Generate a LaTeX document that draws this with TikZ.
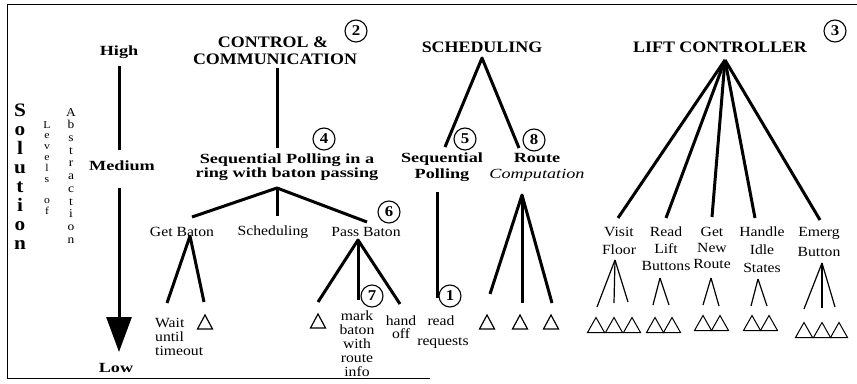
\documentclass[tikz,border=0pt]{standalone}
\usepackage{fontspec}
\usetikzlibrary{arrows.meta}
\setmainfont[FakeStretch=1.12]{Liberation Serif}
\newfontfamily\wbf[FakeStretch=1.3]{Liberation Serif}
\begin{document}
\begin{tikzpicture}[x=1pt,y=-1pt,
  tx/.style={inner sep=0pt,align=center,font=\fontsize{14}{17}\selectfont},
  hd/.style={inner sep=0pt,align=center,font=\bfseries\fontsize{16}{17}\selectfont},
  mb/.style={inner sep=0pt,align=center,font=\wbf\bfseries\fontsize{14}{13.5}\selectfont},
  num/.style={circle,draw,line width=1.1pt,minimum size=22pt,inner sep=0pt,font=\bfseries\fontsize{15}{15}\selectfont},
  thk/.style={line width=3pt},
  thn/.style={line width=1.2pt},
  frm/.style={line width=0.8pt},
  ltri/.pic={\draw[line width=1.2pt,line join=miter] (-7.5,7)--(0,-7)--(7.5,7)--cycle;},
  stri/.pic={\draw[line width=1pt,line join=miter] (-8.5,7.5)--(0,-7.5)--(8.5,7.5)--cycle;}
]
\useasboundingbox (0,0) rectangle (857,383);
% frame
\draw[frm] (857,4) -- (7,4) -- (7,378) -- (430,378);

% left axis labels
\node[inner sep=0pt,align=center,anchor=north,font=\bfseries\fontsize{19}{19}\selectfont] (sol) at (20,104) {S\\o\\l\\u\\t\\i\\o\\n};
\node[inner sep=0pt,align=center,anchor=north,font=\fontsize{10.5}{10.8}\selectfont] (lev) at (47,121) {L\\e\\v\\e\\l\\s\\[10.8pt]o\\f};
\node[inner sep=0pt,align=center,anchor=north,font=\fontsize{12}{12.7}\selectfont] (abs) at (71,108) {A\\b\\s\\t\\r\\a\\c\\t\\i\\o\\n};

\node[mb,font=\wbf\bfseries\fontsize{14}{14}\selectfont] (high) at (119,52) {High};
\node[mb,font=\wbf\bfseries\fontsize{14}{14}\selectfont] (med) at (122,166) {Medium};
\node[mb,font=\wbf\bfseries\fontsize{14}{14}\selectfont] (low) at (116,368) {Low};
\coordinate (ax1) at (119,66);
\coordinate (ax2) at (119,150);
\coordinate (ax3) at (119,188);
\coordinate (ax4) at (119,352);
\draw[thk] (ax1) -- (ax2);
\draw[thk,-{Triangle[length=35pt,width=25pt]}] (ax3) -- (ax4);

% CONTROL & COMMUNICATION
\node[hd] (ctl) at (273,42) {CONTROL \&};
\node[hd] (com) at (275,59) {COMMUNICATION};
\node[num] (n2) at (356,31) {2};
\coordinate (c1) at (277,68);
\coordinate (c2) at (277,148);
\draw[thk] (c1) -- (c2);
\node[num] (n4) at (324,139) {4};
\node[mb] (seqr) at (287,167) {Sequential Polling in a\\ring with baton passing};
\coordinate (cA) at (277,188);
\coordinate (cL) at (192,217);
\coordinate (cM) at (277,216);
\coordinate (cR) at (367,222);
\draw[thk,line join=round] (cL) -- (cA) -- (cR);
\draw[thk] (cA) -- (cM);
\node[tx] (gb) at (182,232) {Get Baton};
\node[tx] (sch) at (273,232) {Scheduling};
\node[tx] (pb) at (366,232) {Pass Baton};
\node[num] (n6) at (389,212) {6};

% Get Baton subtree
\coordinate (gA) at (190,236);
\coordinate (gL) at (167,303);
\coordinate (gR) at (204,302);
\draw[thk,line join=round] (gL) -- (gA) -- (gR);
\node[tx,align=left,anchor=west,font=\fontsize{14}{14}\selectfont] (wait) at (155,337) {Wait\\until\\timeout};
\pic (t1) at (205,322) {ltri};

% Pass Baton subtree
\coordinate (pA) at (358,240);
\coordinate (pL) at (318,302);
\coordinate (pM) at (358,300);
\coordinate (pR) at (400,304);
\draw[thk,line join=round] (pL) -- (pA) -- (pR);
\draw[thk] (pA) -- (pM);
\node[num,fill=white] (n7) at (372,296) {7};
\pic (t2) at (318,321) {ltri};
\node[tx,font=\fontsize{14}{14}\selectfont] (mark) at (357,344) {mark\\baton\\with\\route\\info};
\node[tx,font=\fontsize{14}{12.5}\selectfont] (hand) at (401,327) {hand\\off};

% SCHEDULING
\node[hd] (schd) at (482,47) {SCHEDULING};
\coordinate (sA) at (482,58);
\coordinate (sL) at (445,147);
\coordinate (sR) at (519,148);
\draw[thk,line join=round] (sL) -- (sA) -- (sR);
\node[num] (n5) at (465,139) {5};
\node[num] (n8) at (534,140) {8};
\node[mb,font=\wbf\bfseries\fontsize{14}{16}\selectfont] (sp) at (442,167) {Sequential\\Polling};
\node[mb,font=\wbf\fontsize{14}{16}\selectfont] (rc) at (537,167) {\textbf{Route}\\\textit{Computation}};
\coordinate (spT) at (437,192);
\coordinate (spB) at (437,298);
\draw[thk] (spT) -- (spB);
\node[num] (n1) at (450,296) {1};
\node[tx] (read) at (441,321) {read};
\node[tx] (req) at (443,343) {requests};
\coordinate (rA) at (522,195);
\coordinate (rL) at (490,294);
\coordinate (rM) at (522,303);
\coordinate (rR) at (552,303);
\draw[thk,line join=round] (rL) -- (rA) -- (rR);
\draw[thk] (rA) -- (rM);
\pic (t3) at (487,322) {ltri};
\pic (t4) at (520,322) {ltri};
\pic (t5) at (551,322) {ltri};

% LIFT CONTROLLER
\node[hd] (lift) at (720,47) {LIFT CONTROLLER};
\node[num] (n3) at (835,31) {3};
\coordinate (lA) at (725,60);
\coordinate (l1) at (618,218);
\coordinate (l2) at (666,218);
\coordinate (l3) at (712,217);
\coordinate (l4) at (755,218);
\coordinate (l5) at (820,220);
\foreach \e in {l1,l2,l3,l4,l5} \draw[thk] (lA) -- (\e);

\node[tx,font=\fontsize{14}{18}\selectfont] (vf) at (619,241) {Visit\\Floor};
\node[tx,font=\fontsize{14}{17}\selectfont] (rl) at (666,249) {Read\\Lift\\Buttons};
\node[tx,font=\fontsize{14}{16}\selectfont] (gn) at (712,248) {Get\\New\\Route};
\node[tx,font=\fontsize{14}{18}\selectfont] (hi) at (762,250) {Handle\\Idle\\States};
\node[tx,font=\fontsize{14}{20}\selectfont] (eb) at (819,242) {Emerg\\Button};

% thin subtrees
\coordinate (vA) at (615,260);
\coordinate (v1) at (597,307);
\coordinate (v2) at (614,303);
\coordinate (v3) at (628,302);
\foreach \e in {v1,v2,v3} \draw[thn] (vA) -- (\e);
\pic at (596,325) {stri};
\pic at (614,325) {stri};
\pic at (632,325) {stri};

\coordinate (rdA) at (660,278);
\coordinate (rd1) at (653,305);
\coordinate (rd2) at (669,305);
\foreach \e in {rd1,rd2} \draw[thn] (rdA) -- (\e);
\pic at (655,325) {stri};
\pic at (672,325) {stri};

\coordinate (gtA) at (711,278);
\coordinate (gt1) at (703,305);
\coordinate (gt2) at (719,306);
\foreach \e in {gt1,gt2} \draw[thn] (gtA) -- (\e);
\pic at (703,323) {stri};
\pic at (720,323) {stri};

\coordinate (hdA) at (758,279);
\coordinate (hd1) at (751,306);
\coordinate (hd2) at (767,306);
\foreach \e in {hd1,hd2} \draw[thn] (hdA) -- (\e);
\pic at (752,323) {stri};
\pic at (769,323) {stri};

\coordinate (emA) at (822,263);
\coordinate (em1) at (804,309);
\coordinate (em2) at (822,308);
\coordinate (em3) at (835,307);
\foreach \e in {em1,em2,em3} \draw[thn] (emA) -- (\e);
\pic at (804,330) {stri};
\pic at (822,330) {stri};
\pic at (839,330) {stri};
\end{tikzpicture}
\end{document}
